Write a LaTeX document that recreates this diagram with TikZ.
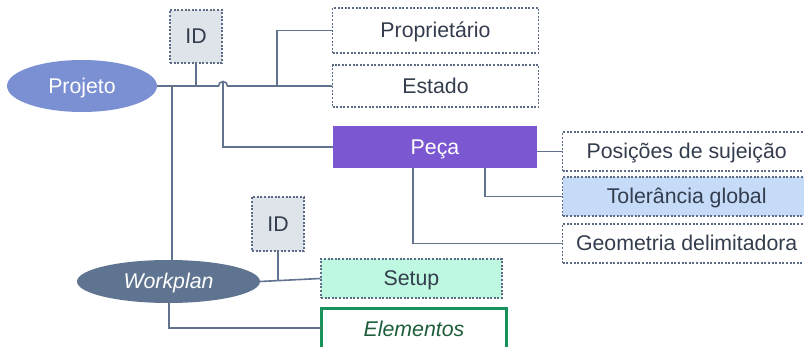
\documentclass[tikz,border=0pt]{standalone}
\usepackage{fontspec}
\setmainfont{Liberation Sans}
\usetikzlibrary{shapes.geometric}
\definecolor{txt}{HTML}{333D4D}
\definecolor{ln}{HTML}{62738F}
\definecolor{dotc}{HTML}{5C6B85}
\definecolor{projc}{HTML}{7B90D2}
\definecolor{pecac}{HTML}{7B57D1}
\definecolor{wpc}{HTML}{5F7490}
\definecolor{idc}{HTML}{DFE3EA}
\definecolor{tolc}{HTML}{C5DBF8}
\definecolor{setc}{HTML}{BEF8E0}
\definecolor{elc}{HTML}{16925A}
\definecolor{eltxt}{HTML}{1E5E3A}
\begin{document}
\begin{tikzpicture}[x=1pt,y=-1pt,
  every node/.style={font=\fontsize{21.3}{25}\selectfont, text=txt, inner sep=0pt, text height=19.3pt, text depth=4.5pt},
  dotbox/.style={draw=dotc, line width=1.4pt, dash pattern=on 2pt off 1.6pt, rectangle},
  ell/.style={ellipse, text=white},
  conn/.style={draw=ln, line width=1.6pt}
]
\useasboundingbox (0,0) rectangle (804,347);
\clip (0,0) rectangle (804,347);
% nodes
\node[ell, fill=projc, minimum width=150pt, minimum height=52pt] (proj) at (82,86) {Projeto};
\node[dotbox, fill=idc, minimum width=52pt, minimum height=53pt] (id1) at (196,36.5) {ID};
\node[dotbox, fill=white, minimum width=206pt, minimum height=45pt] (prop) at (435.5,30.5) {Propriet\'ario};
\node[dotbox, fill=white, minimum width=206pt, minimum height=42pt] (est) at (435.5,86) {Estado};
\node[rectangle, fill=pecac, text=white, minimum width=204pt, minimum height=42pt] (peca) at (435,147) {Pe\c{c}a};
\node[dotbox, fill=white, minimum width=248pt, minimum height=39pt, anchor=west] (pos) at (562,151.5) {Posi\c{c}\~oes de sujei\c{c}\~ao};
\node[dotbox, fill=tolc, minimum width=248pt, minimum height=39pt, anchor=west] (tol) at (562,196.5) {Toler\^ancia global};
\node[dotbox, fill=white, minimum width=248pt, minimum height=39pt, anchor=west] (geo) at (562,243.5) {Geometria delimitadora};
\node[ell, fill=wpc, minimum width=183pt, minimum height=43pt, font=\fontsize{21.3}{25}\selectfont\itshape] (wp) at (168.5,281.5) {Workplan};
\node[dotbox, fill=idc, minimum width=52pt, minimum height=54pt] (id2) at (278,224) {ID};
\node[dotbox, fill=setc, minimum width=181pt, minimum height=39pt] (setup) at (411.5,278.5) {Setup};
\node[draw=elc, line width=3pt, fill=white, minimum width=185pt, minimum height=42pt, text=eltxt, font=\fontsize{21.3}{25}\selectfont\itshape] (elem) at (414,329.5) {Elementos};
% connectors
\coordinate (hopL) at (218.5,86);
\coordinate (hopT) at (223,81.5);
\coordinate (jA) at (172,86);
\coordinate (jB) at (277,86);
\coordinate (pT) at (485,168);
\coordinate (pG) at (413,168);
\coordinate (wB) at (169,300);
\coordinate (eL) at (321,328);
\draw[conn] (proj.east) -- (hopL) arc[start angle=180, end angle=0, radius=4.5pt] -- (est.west);
\draw[conn] (id1.south) -- (id1.south |- proj.east);
\draw[conn] (jB) |- (prop.west);
\draw[conn] (peca.west) -| (hopT);
\draw[conn] (jA) -- (jA |- wp.north);
\draw[conn] (peca.east |- pos.west) -- (pos.west);
\draw[conn] (pT) |- (tol.west);
\draw[conn] (pG) |- (geo.west);
\draw[conn] (wp.east) -- (setup.west);
\draw[conn] (id2.south) -- (id2.south |- wp.east);
\draw[conn] (wB) |- (eL);
\end{tikzpicture}
\end{document}
